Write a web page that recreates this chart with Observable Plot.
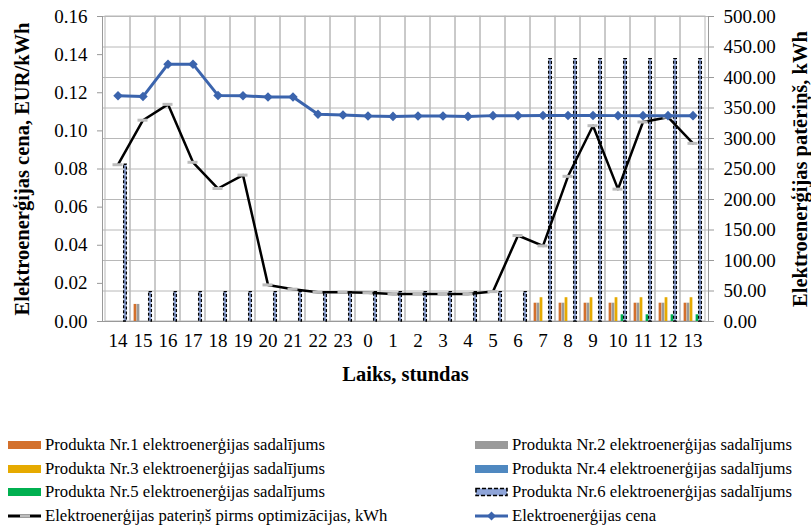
<!DOCTYPE html>
<html><head><meta charset="utf-8">
<script src="https://cdn.jsdelivr.net/npm/d3@7"></script>
<script src="https://cdn.jsdelivr.net/npm/@observablehq/plot@0.6"></script>
<style>
body{margin:0;background:#fff;font-family:"Liberation Serif","Times New Roman",serif;}
#wrap{position:relative;width:811px;height:525px;overflow:hidden;}
#legend{position:absolute;left:0;top:0;width:811px;height:525px;font-size:16.7px;pointer-events:none;}
.item{position:absolute;display:flex;align-items:center;white-space:nowrap;height:20px;}
.item svg{margin-right:3px;}
</style></head><body><div id="wrap"><div id="chart"></div><div id="legend"></div></div>
<script>
// ---- data ----
const hours = ["14","15","16","17","18","19","20","21","22","23","0","1","2","3","4","5","6","7","8","9","10","11","12","13"];
const price = [0.1184,0.1180,0.1350,0.1350,0.1186,0.1184,0.1178,0.1178,0.1087,0.1083,0.1078,0.1076,0.1078,0.1078,0.1076,0.1080,0.1080,0.1081,0.1081,0.1081,0.1080,0.1080,0.1080,0.1080];
const consumptionBefore = [257,330,356,261,218,240,60,53,48,48,47,45,45,45,45,49,141,124,238,321,217,327,335,292];
const product1 = [0,28,0,0,0,0,0,0,0,0,0,0,0,0,0,0,0,30,30,30,30,30,30,30];
const product2 = [0,28,0,0,0,0,0,0,0,0,0,0,0,0,0,0,0,30,30,30,30,30,30,30];
const product3 = [0,0,0,0,0,0,0,0,0,0,0,0,0,0,0,0,0,39,39,39,39,39,39,39];
const product4 = [0,0,0,0,0,0,0,0,0,0,0,0,0,0,0,0,0,0,0,0,0,0,0,0];
const product5 = [0,0,0,0,0,0,0,0,0,0,0,0,0,0,0,0,0,0,0,0,11,11,11,11];
const product6 = [257,48,48,48,48,48,48,48,48,48,48,48,48,48,48,48,48,430,430,430,430,430,430,430];
const productNames = ["Produkta Nr.1 elektroenerģijas sadalījums","Produkta Nr.2 elektroenerģijas sadalījums","Produkta Nr.3 elektroenerģijas sadalījums","Produkta Nr.4 elektroenerģijas sadalījums","Produkta Nr.5 elektroenerģijas sadalījums","Produkta Nr.6 elektroenerģijas sadalījums"];
const lineNames = ["Elektroenerģijas pateriņš pirms optimizācijas, kWh","Elektroenerģijas cena"];
const leftTickValues = [0,0.02,0.04,0.06,0.08,0.10,0.12,0.14,0.16];
const rightTickValues = [0,50,100,150,200,250,300,350,400,450,500];
const leftTitle = "Elektroenerģijas cena, EUR/kWh";
const rightTitle = "Elektroenerģijas patēriņš, kWh";
const xTitle = "Laiks, stundas";

// ---- styles ----
const productColors = ["#D3702C","#9A9A9A","#E6AA00","#4F88C0","#00B050","#8EA4D8"];
const blue = "#3B64AD";
const gridColor = "#B8B8B8";
const k = 500/0.16; // price -> kWh scale factor

const W = 811, H = 400, mL = 102, mR = 103, mT = 16, mB = 79;
const bw = (W - mL - mR) / hours.length;
const barW = 3;

const products = [product1,product2,product3,product4,product5,product6];
const barMarks = products.map((vals, j) => {
  const o = (j - 2.5) * barW;
  const il = bw/2 + o - barW/2, ir = bw/2 - o - barW/2;
  const rows = hours.map((h,i) => ({hour:h, v:vals[i]})).filter(d => d.v > 0);
  const extra = j === 5 ? {stroke:"#000", strokeWidth:1.3, strokeDasharray:"3,2"} : {};
  return Plot.barY(rows, {x:"hour", y:"v", fill:productColors[j], insetLeft:il, insetRight:ir, ...extra});
});

const data = hours.map((h,i) => ({hour:h, price:price[i], before:consumptionBefore[i]}));

const chart = Plot.plot({
  width: W, height: H,
  marginLeft: mL, marginRight: mR, marginTop: mT, marginBottom: mB,
  style: {fontFamily:"Liberation Serif, Times New Roman, serif", fontSize:"19px", color:"#000", background:"#fff"},
  x: {type:"band", domain:hours, padding:0},
  y: {domain:[0,500]},
  marks: [
    Plot.gridY(rightTickValues.filter(v => v > 0), {stroke:gridColor, strokeOpacity:1}),
    Plot.barY(hours, {x:d=>d, y1:0, y2:500, fill:"none", stroke:gridColor, strokeWidth:1}),
    Plot.frame({anchor:"left", stroke:"#999"}),
    Plot.frame({anchor:"right", stroke:"#999"}),
    Plot.frame({anchor:"bottom", stroke:"#999"}),
    Plot.axisY(leftTickValues.map(v => v*k), {anchor:"left", tickFormat:d => (d/k).toFixed(2), tickSize:5, tickPadding:10, stroke:"#999", fill:"#000", label:null, fontSize:19}),
    Plot.axisY(rightTickValues, {anchor:"right", tickFormat:d => d.toFixed(2), tickSize:5, tickPadding:10, stroke:"#999", fill:"#000", label:null, fontSize:19}),
    Plot.axisX({tickSize:0, tickPadding:12, label:null, fontSize:19, fill:"#000"}),
    ...barMarks,
    Plot.line(data, {x:"hour", y:"before", stroke:"#000", strokeWidth:2.5}),
    Plot.tickY(data, {x:"hour", y:"before", stroke:"#BDBDBD", strokeWidth:3, inset:7.5}),
    Plot.line(data, {x:"hour", y:d => d.price*k, stroke:blue, strokeWidth:3}),
    Plot.dot(data, {x:"hour", y:d => d.price*k, symbol:"diamond2", r:4.3, fill:blue, stroke:"none"}),
    Plot.text([leftTitle], {text:d=>d, frameAnchor:"left", rotate:-90, dx:-80, fontWeight:"bold", fontSize:20.5, textAnchor:"middle", lineAnchor:"middle"}),
    Plot.text([rightTitle], {text:d=>d, frameAnchor:"right", rotate:-90, dx:92, fontWeight:"bold", fontSize:20.5, textAnchor:"middle", lineAnchor:"middle"}),
    Plot.text([xTitle], {text:d=>d, frameAnchor:"bottom", dy:53, fontWeight:"bold", fontSize:20.5, textAnchor:"middle", lineAnchor:"middle"})
  ]
});
document.getElementById("chart").appendChild(chart);

// ---- legend ----
const legend = document.getElementById("legend");
const rowsY = [445, 468.5, 492, 515.5];
const colX = [8, 475];
function swatchSvg(kind, color) {
  const ns = "http://www.w3.org/2000/svg";
  const s = document.createElementNS(ns, "svg");
  s.setAttribute("width", 34); s.setAttribute("height", 14);
  const add = (tag, attrs) => { const e = document.createElementNS(ns, tag); for (const a in attrs) e.setAttribute(a, attrs[a]); s.appendChild(e); };
  if (kind === "bar") add("rect", {x:0, y:3, width:33, height:8, fill:color});
  else if (kind === "bar6") add("rect", {x:1, y:3.5, width:31, height:7, fill:color, stroke:"#000", "stroke-width":1.6, "stroke-dasharray":"4,2"});
  else if (kind === "black") { add("line", {x1:0, x2:33, y1:7, y2:7, stroke:"#000", "stroke-width":3}); add("line", {x1:12, x2:22, y1:7, y2:7, stroke:"#BDBDBD", "stroke-width":3}); }
  else if (kind === "blue") { add("line", {x1:0, x2:33, y1:7, y2:7, stroke:color, "stroke-width":3}); add("path", {d:"M16.5,2.5L21,7L16.5,11.5L12,7Z", fill:color}); }
  return s;
}
const items = [];
productNames.forEach((n, j) => items.push({name:n, kind: j === 5 ? "bar6" : "bar", color: productColors[j], col: j % 2, row: Math.floor(j/2)}));
items.push({name:lineNames[0], kind:"black", color:"#000", col:0, row:3});
items.push({name:lineNames[1], kind:"blue", color:blue, col:1, row:3});
items.forEach(it => {
  const d = document.createElement("div");
  d.className = "item";
  d.style.left = colX[it.col] + "px";
  d.style.top = (rowsY[it.row] - 10) + "px";
  d.appendChild(swatchSvg(it.kind, it.color));
  const t = document.createElement("span");
  t.textContent = it.name;
  d.appendChild(t);
  legend.appendChild(d);
});
</script>
</body></html>
